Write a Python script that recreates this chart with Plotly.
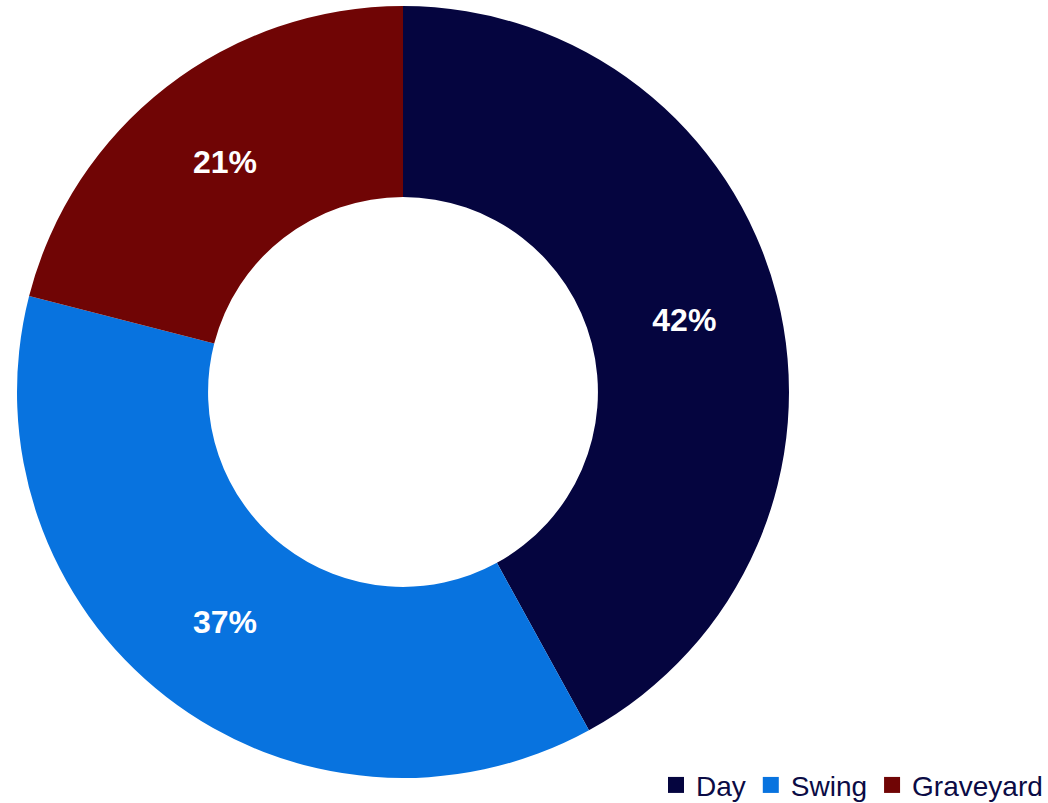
import plotly.graph_objects as go

# Shift share of workforce
shifts = ["Day", "Swing", "Graveyard"]
shares = [42, 37, 21]
colors = ["#05053f", "#0873df", "#700505"]

W, H = 1048, 803

fig = go.Figure()

fig.add_trace(
    go.Pie(
        labels=shifts,
        values=shares,
        hole=0.505,
        sort=False,
        direction="clockwise",
        rotation=0,
        marker=dict(colors=colors, line=dict(width=0)),
        texttemplate="%{value}%",
        textposition="inside",
        insidetextorientation="horizontal",
        textfont=dict(family="Liberation Sans, Arial", size=32, color="white", weight="bold"),
        domain=dict(x=[17 / W, 789 / W], y=[25 / H, 797 / H]),
        hoverinfo="label+percent",
        showlegend=False,
    )
)

# Legend entries with larger square swatches
for name, col in zip(shifts, colors):
    fig.add_trace(
        go.Scatter(
            x=[None],
            y=[None],
            mode="markers",
            name=name,
            marker=dict(symbol="square", size=16, color=col),
            showlegend=True,
        )
    )

fig.update_xaxes(visible=False)
fig.update_yaxes(visible=False)

fig.update_layout(
    width=W,
    height=H,
    margin=dict(l=0, r=0, t=0, b=0, autoexpand=False),
    paper_bgcolor="white",
    plot_bgcolor="white",
    showlegend=True,
    legend=dict(
        orientation="h",
        x=1.0,
        xanchor="right",
        y=-0.009,
        yanchor="bottom",
        font=dict(family="Liberation Sans, Arial", size=28, color="#0b0b45"),
        itemsizing="trace",
        itemwidth=30,
        tracegroupgap=0,
        bgcolor="rgba(0,0,0,0)",
    ),
)

fig.write_html("out.html")
